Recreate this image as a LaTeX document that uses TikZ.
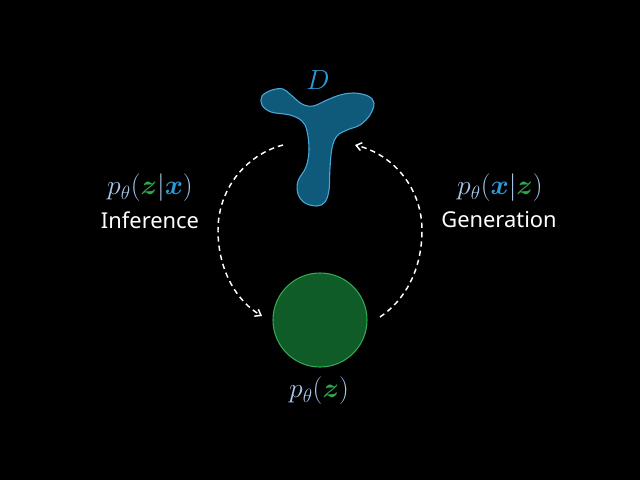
\documentclass[tikz,border=0pt]{standalone}
\usepackage{amsmath}
\usepackage{fontspec}
\newfontfamily\labfont{Noto Sans}
\usetikzlibrary{arrows.meta}
\definecolor{plight}{HTML}{A9C8EA}
\definecolor{zgreen}{HTML}{2EA84C}
\definecolor{xblue}{HTML}{2E9AD8}
\definecolor{blobfill}{HTML}{0F5A7A}
\definecolor{blobline}{HTML}{4AA8D8}
\definecolor{circfill}{HTML}{105C28}
\definecolor{circline}{HTML}{34A850}
\tikzset{
  mathlab/.style={text=plight, font=\fontsize{21.5}{25}\selectfont, inner sep=0pt},
  wordlab/.style={text=white, font=\labfont\fontsize{16.4}{19}\selectfont, inner sep=0pt},
  flowarc/.style={draw=white, line width=1.1pt, dash pattern=on 4pt off 3pt, -{Straight Barb[length=4pt,width=6pt]}},
}
\begin{document}
\begin{tikzpicture}[x=0.75pt,y=-0.75pt]
\fill[black] (0,0) rectangle (640,480);
\useasboundingbox (0,0) rectangle (640,480);
% blob D
\draw[fill=blobfill, draw=blobline, line width=0.8pt]
  plot[smooth cycle, tension=0.6] coordinates {
   (262,96) (272,90) (283,89) (291,95) (302,104) (313,106) (327,100) (340,95)
   (354,93) (368,96) (374,103) (370,115) (360,125) (347,130) (337,136) (332,148)
   (330,168) (329,190) (325,202) (317,206) (305,203) (298,194) (298,181) (306,167)
   (309,150) (307,131) (302,121) (290,115) (271,112) (262,105)};
\node[text=xblue, font=\fontsize{21.5}{25}\selectfont, inner sep=0pt] (Dlab) at (318,80) {$D$};
% circle z
\node[circle, minimum size=94*0.75pt, fill=circfill, draw=circline, line width=0.8pt, inner sep=0pt] (zc) at (320,320) {};
\node[mathlab] (pz) at (319,391) {$p_\theta(\textcolor{zgreen}{\boldsymbol{z}})$};
% labels
\node[mathlab] (pzx) at (150,188) {$p_\theta(\textcolor{zgreen}{\boldsymbol{z}}|\textcolor{xblue}{\boldsymbol{x}})$};
\node[wordlab] (inf) at (150,220) {Inference};
\node[mathlab] (pxz) at (500,188) {$p_\theta(\textcolor{xblue}{\boldsymbol{x}}|\textcolor{zgreen}{\boldsymbol{z}})$};
\node[wordlab] (gen) at (499,220) {Generation};
% arcs
\coordinate (ls) at (283,145);
\coordinate (lm) at (218,230);
\coordinate (le) at (262,316);
\coordinate (rs) at (380,317);
\coordinate (rm) at (422,230);
\coordinate (re) at (355,145);
\draw[flowarc] (ls) .. controls (245,155) and (218,190) .. (lm) .. controls (218,272) and (238,302) .. (le);
\draw[flowarc] (rs) .. controls (405,300) and (422,270) .. (rm) .. controls (422,190) and (395,155) .. (re);
\end{tikzpicture}
\end{document}
